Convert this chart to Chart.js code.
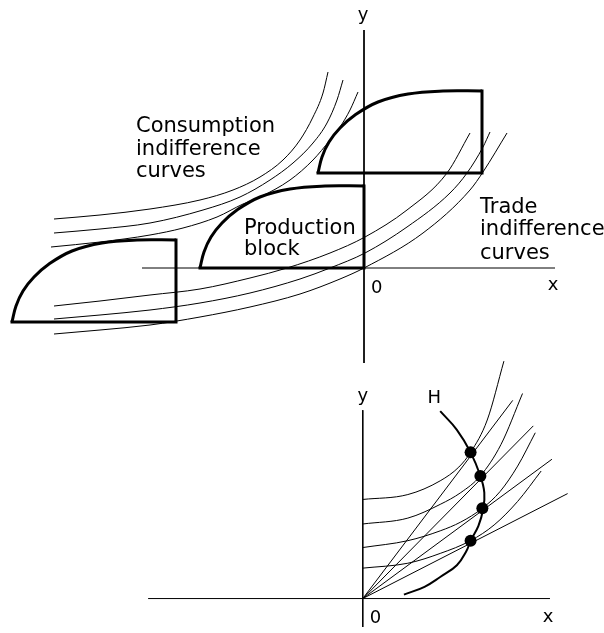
<!DOCTYPE html>
<html>
<head>
<meta charset="utf-8">
<script src="https://cdn.jsdelivr.net/npm/chart.js@4"></script>
<style>
  body { margin: 0; background: #fff; }
  #wrap { position: relative; width: 604px; height: 633px; }
  #wrap canvas { position: absolute; left: 0; top: 0; }
</style>
</head>
<body>
<div id="wrap">
  <canvas id="topChart" width="604" height="633"></canvas>
  <canvas id="bottomChart" width="604" height="633"></canvas>
</div>
<script>
// ---- top diagram (origin at the crossing of the axes) ----
const frontier = [[-164,0],[-160,16],[-153,31],[-142,45],[-127,58],[-104,71],[-74,79],[-39,82],[0,82]];
const blockEdges = [[0,82],[0,0],[-164,0]];
const blockShifts = [[0,0],[118,95],[-188,-54]];

const consumption1 = [[-310,49],[-264,53],[-214,59],[-164,68],[-131,78],[-104,91],[-81,108],[-64,128],[-51,151],[-41,175],[-36,196]];
const consumption2 = [[-310,35],[-264,39],[-214,45],[-161,58],[-124,71],[-94,88],[-71,105],[-51,125],[-37,145],[-27,168],[-21,188]];
const consumption3 = [[-313,21],[-264,26],[-214,33],[-181,40],[-147,51],[-121,64],[-104,71],[-74,88],[-51,108],[-34,128],[-24,141],[-14,158],[-6,176]];

const trade1 = [[-310,-38],[-264,-33],[-214,-27],[-164,-21],[-114,-10],[-77,0],[-34,15],[1,31],[43,58],[83,95],[106,135]];
const trade2 = [[-310,-51],[-264,-47],[-214,-42],[-164,-35],[-114,-25],[-64,-11],[-34,0],[1,15],[43,41],[86,75],[103,95],[119,121],[126,136]];
const trade3 = [[-310,-66],[-264,-62],[-214,-57],[-164,-49],[-114,-39],[-64,-26],[-24,-11],[0,0],[59,35],[106,78],[119,96],[143,135]];

const topXAxis = [[-222,0],[191,0]];
const topYAxis = [[0,238],[0,-95]];

// ---- bottom diagram ----
const hCurve = [[79,191],[96,172],[110,149],[120,125],[124,108],[123,92],[118,74],[110,59],[106,49],[96,34],[79,22],[63,12],[42,4]];
const tangencies = [[110,149],[120,125],[122,92],[110,59]];
const rayEnds = [[153,202],[174,176],[193,142],[209,107]];
const indiff1 = [[0,101],[46,106],[79,120],[98,134],[110,149],[127,182],[144,242]];
const indiff2 = [[0,76],[46,82],[79,96],[100,108],[120,125],[141,157],[163,209]];
const indiff3 = [[0,52],[46,59],[79,69],[100,78],[122,92],[140,109],[158,135],[176,169]];
const indiff4 = [[0,31],[46,36],[79,46],[110,59],[134,75],[158,99],[182,130]];

const bottomXAxis = [[-219,0],[191,0]];
const bottomYAxis = [[0,192],[0,-29]];

function toXY(points) {
    return points.map(p => ({ x: p[0], y: p[1] }));
}

function line(points, width, tension) {
    return {
        data: toXY(points),
        showLine: true,
        borderColor: '#000',
        borderWidth: width,
        pointRadius: 0,
        tension: tension,
        fill: false,
        clip: false,
        borderCapStyle: 'butt',
        borderJoinStyle: 'miter'
    };
}

function smoothLine(points) {
    const ds = line(points, 1, 0.4);
    ds.cubicInterpolationMode = 'monotone';
    return ds;
}

const labelPlugin = {
    id: 'labels',
    afterDatasetsDraw(chart, args, opts) {
        const ctx = chart.ctx;
        const xs = chart.scales.x;
        const ys = chart.scales.y;
        ctx.save();
        ctx.fillStyle = '#000';
        ctx.textBaseline = 'alphabetic';
        opts.items.forEach(l => {
            ctx.font = l.size + 'px "DejaVu Sans"';
            ctx.textAlign = l.align || 'left';
            ctx.fillText(l.text, xs.getPixelForValue(l.x), ys.getPixelForValue(l.y));
        });
        ctx.restore();
    }
};

function makeChart(id, datasets, yMin, yMax, labels) {
    return new Chart(document.getElementById(id), {
        type: 'scatter',
        data: { datasets: datasets },
        options: {
            responsive: false,
            animation: false,
            events: [],
            layout: { padding: 0 },
            scales: {
                x: { type: 'linear', min: -364, max: 240, display: false },
                y: { type: 'linear', min: yMin, max: yMax, display: false }
            },
            plugins: {
                legend: { display: false },
                tooltip: { enabled: false },
                labels: { items: labels }
            }
        },
        plugins: [labelPlugin]
    });
}

// top chart datasets
const topSets = [
    line(topXAxis, 1, 0),
    line(topYAxis, 1, 0),
    smoothLine(consumption1),
    smoothLine(consumption2),
    smoothLine(consumption3),
    smoothLine(trade1),
    smoothLine(trade2),
    smoothLine(trade3)
];
blockShifts.forEach(s => {
    const move = pts => pts.map(p => [p[0] + s[0], p[1] + s[1]]);
    topSets.push(line(move(frontier), 3, 0.4));
    const edges = line(move(blockEdges), 3, 0);
    edges.borderCapStyle = 'square';
    topSets.push(edges);
});

makeChart('topChart', topSets, -365, 268, [
    { text: 'Consumption', x: -228, y: 136, size: 21 },
    { text: 'indifference', x: -228, y: 113, size: 21 },
    { text: 'curves', x: -228, y: 91, size: 21 },
    { text: 'Production', x: -120, y: 34, size: 21 },
    { text: 'block', x: -120, y: 13, size: 21 },
    { text: 'Trade', x: 116, y: 55, size: 21 },
    { text: 'indifference', x: 116, y: 33, size: 21 },
    { text: 'curves', x: 116, y: 9, size: 21 },
    { text: 'y', x: -1, y: 248, size: 18, align: 'center' },
    { text: 'x', x: 189, y: -22, size: 18, align: 'center' },
    { text: '0', x: 7, y: -25, size: 18 }
]);

// bottom chart datasets
const bottomSets = [
    line(bottomXAxis, 1, 0),
    line(bottomYAxis, 1, 0),
    smoothLine(indiff1),
    smoothLine(indiff2),
    smoothLine(indiff3),
    smoothLine(indiff4)
];
rayEnds.forEach(r => bottomSets.push(line([[0,0], r], 1, 0)));
bottomSets.push(line(hCurve, 2, 0.4));
bottomSets.push({
    data: toXY(tangencies),
    showLine: false,
    pointRadius: 6,
    backgroundColor: '#000',
    borderColor: '#000',
    borderWidth: 0,
    clip: false
});

makeChart('bottomChart', bottomSets, -29, 604, [
    { text: 'y', x: 0, y: 201, size: 18, align: 'center' },
    { text: 'H', x: 66, y: 199, size: 18 },
    { text: '0', x: 7, y: -25, size: 18 },
    { text: 'x', x: 189, y: -24, size: 18, align: 'center' }
]);
</script>
</body>
</html>
